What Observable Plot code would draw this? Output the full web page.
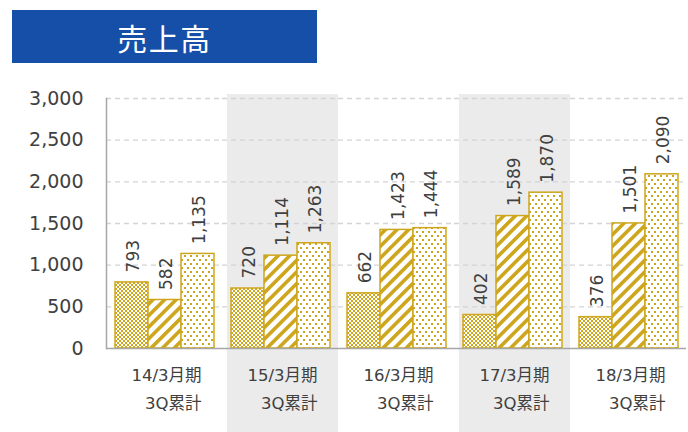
<!DOCTYPE html>
<html><head><meta charset="utf-8">
<script src="https://cdn.jsdelivr.net/npm/d3@7"></script>
<script src="https://cdn.jsdelivr.net/npm/@observablehq/plot@0.6"></script>
<style>
body{margin:0;background:#fff;width:688px;height:432px;overflow:hidden}
#head{position:relative;height:70px}
#title{position:absolute;left:12px;top:10px;width:305px;height:53px;background:#154FA8;color:#fff;font:30px "Noto Sans CJK JP";display:flex;align-items:center;justify-content:center;letter-spacing:1.5px}
#chart svg{display:block;overflow:visible}
#defs{position:absolute;width:0;height:0}
</style></head><body>
<svg id="defs" width="0" height="0"><defs>
<pattern id="pChecker" width="4" height="4" patternUnits="userSpaceOnUse"><rect width="4" height="4" fill="#fff"/><rect width="2" height="2" fill="#CDA61E"/><rect x="2" y="2" width="2" height="2" fill="#CDA61E"/></pattern>
<pattern id="pStripe" width="8.2" height="8.2" patternUnits="userSpaceOnUse" patternTransform="rotate(45)"><rect width="8.2" height="8.2" fill="#fff"/><rect width="3.6" height="8.2" fill="#CDA61E"/></pattern>
<pattern id="pDots" width="6" height="8" patternUnits="userSpaceOnUse"><rect width="6" height="8" fill="#fff"/><rect x="1" y="1" width="2" height="2" fill="#CDA61E"/><rect x="4" y="5" width="2" height="2" fill="#CDA61E"/></pattern>
</defs></svg>
<div id="head"><div id="title">売上高</div></div>
<div id="chart"></div>
<script>
const periods = ["14/3月期", "15/3月期", "16/3月期", "17/3月期", "18/3月期"];
const periodNote = "3Q累計";
const seriesNames = ["A", "B", "C"];
const seriesA = [793, 720, 662, 402, 376];
const seriesB = [582, 1114, 1423, 1589, 1501];
const seriesC = [1135, 1263, 1444, 1870, 2090];
const shadedPeriods = ["15/3月期", "17/3月期"];
const yTicks = [0, 500, 1000, 1500, 2000, 2500, 3000];

const gold = "#CDA61E";
const patternFor = {A: "url(#pChecker)", B: "url(#pStripe)", C: "url(#pDots)"};
const valuesFor = {A: seriesA, B: seriesB, C: seriesC};
const rows = periods.flatMap((p, i) => seriesNames.map(s => ({period: p, series: s, value: valuesFor[s][i]})));
const shadeRows = shadedPeriods.map(p => ({period: p}));
const periodRows = periods.map(p => ({period: p}));
const yMax = yTicks[yTicks.length - 1];
const fmt = d3.format(",");
const halfGap = 8;

const bars = seriesNames.map(s => Plot.barY(rows.filter(d => d.series === s), {
  fx: "period", x: "series", y: "value", fill: patternFor[s], stroke: gold, strokeWidth: 1.5
}));

const plot = Plot.plot({
  width: 688, height: 362,
  marginTop: 28, marginBottom: 84, marginLeft: 105, marginRight: 0,
  style: {fontFamily: "DejaVu Sans", color: "#404040", background: "transparent", overflow: "visible"},
  fx: {domain: periods, paddingInner: 0.137, paddingOuter: 0.0686, axis: null, label: null},
  x: {domain: seriesNames, padding: 0, axis: null},
  y: {domain: [0, yMax], axis: null},
  marks: [
    Plot.barY(shadeRows, {fx: "period", y: () => yMax, fill: "#ebebeb", insetTop: -4, insetBottom: -84, insetLeft: -3, insetRight: -8}),
    Plot.gridY(yTicks.slice(1), {stroke: "#d4d4d4", strokeOpacity: 1, strokeWidth: 1.3, strokeDasharray: "5,4", insetLeft: -halfGap, insetRight: -halfGap}),
    ...bars,
    Plot.ruleY([0], {stroke: "#a6a6a6", strokeWidth: 1.5, insetLeft: -halfGap, insetRight: -halfGap}),
    Plot.frame({anchor: "left", facetAnchor: "left", stroke: "#a6a6a6", strokeWidth: 1.5, insetLeft: -halfGap}),
    Plot.axisY(yTicks, {tickSize: 0, tickPadding: 23 + halfGap, fontSize: 19, tickFormat: fmt, fill: "#404040", label: null}),
    Plot.text(rows, {fx: "period", x: "series", y: "value", text: d => fmt(d.value), rotate: -90, textAnchor: "start", dy: -10, dx: 1.5, fontSize: 17, fill: "#404040"}),
    Plot.text(periodRows, {fx: "period", text: "period", frameAnchor: "bottom", textAnchor: "end", dx: 37, dy: 32, fontSize: 16.5, fontFamily: "DejaVu Sans, Noto Sans CJK JP", fill: "#404040"}),
    Plot.text(periodRows, {fx: "period", text: () => periodNote, frameAnchor: "bottom", textAnchor: "end", dx: 37, dy: 60, fontSize: 16.5, fontFamily: "DejaVu Sans, Noto Sans CJK JP", fill: "#404040"})
  ]
});
document.getElementById("chart").appendChild(plot);
</script>
</body></html>
